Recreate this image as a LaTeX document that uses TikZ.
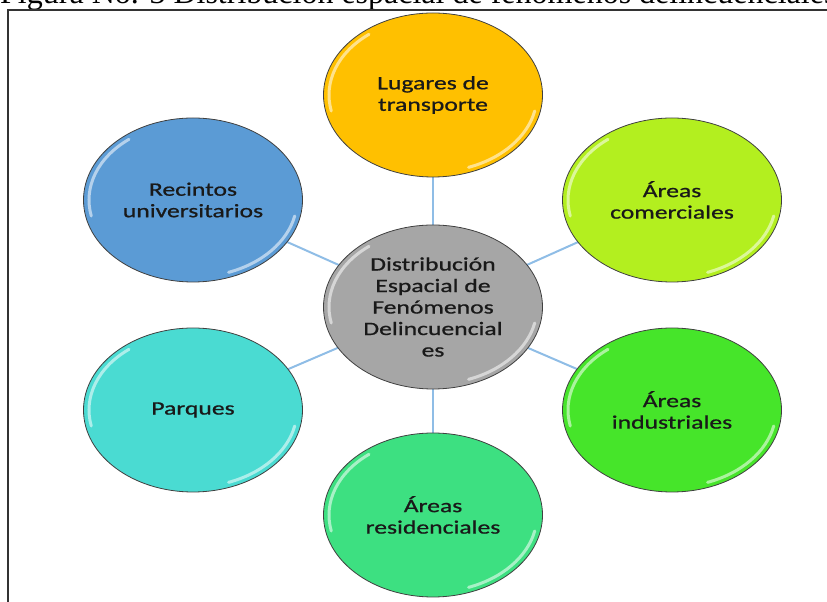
\documentclass[tikz,border=0pt]{standalone}
\usepackage{fontspec}
\setmainfont{Liberation Serif}
\newfontfamily\bubblefont{Carlito}[FakeStretch=1.35,FakeBold=0.8]
\usetikzlibrary{shapes.geometric}

\definecolor{transportgold}{HTML}{FFC000}
\definecolor{campusblue}{HTML}{5B9BD5}
\definecolor{tradelime}{HTML}{B3EF1F}
\definecolor{industrygreen}{HTML}{46E52A}
\definecolor{housingmint}{HTML}{3DE081}
\definecolor{parkturquoise}{HTML}{4ADBD2}
\definecolor{hubgray}{HTML}{A6A6A6}
\definecolor{spokeblue}{HTML}{8FBDE6}

\tikzset{
  gloss/.style={white, line width=3pt, opacity=.55, line cap=round},
  bubble/.style={ellipse, draw=black!75, line width=0.8pt, inner sep=0pt,
    minimum width=219pt, minimum height=164pt, align=center, text=black!90,
    font=\bubblefont\fontsize{19}{21.5}\selectfont,
    path picture={
      \draw[gloss] ([shift={(128:104pt and 77pt)}]path picture bounding box.center)
        arc[start angle=128, end angle=192, x radius=104pt, y radius=77pt];
      \draw[gloss] ([shift={(290:104pt and 77pt)}]path picture bounding box.center)
        arc[start angle=290, end angle=348, x radius=104pt, y radius=77pt];
    }},
  spoke/.style={draw=spokeblue, line width=2pt}
}

\begin{document}
\begin{tikzpicture}[x=1pt,y=1pt]
\useasboundingbox (0,0) rectangle (827,602);

% caption and frame, cut by the page
\node[anchor=base west, inner sep=0pt, font=\fontsize{32}{36}\selectfont] (caption) at (0,598)
  {Figura No. 3 Distribución espacial de fenómenos delincuenciales};
\draw[black!80, line width=1.4pt] (8,-10) -- (8,592) -- (840,592);

% connectors behind the bubbles
\coordinate (hubc) at (433,295);
\foreach \pt in {(433,507),(193,402),(672,402),(193,192),(672,192),(433,87)}
  \draw[spoke] (hubc) -- \pt;

\node[bubble, fill=hubgray] (hub) at (hubc)
  {Distribución\\Espacial de\\Fenómenos\\Delincuencial\\es};
\node[bubble, fill=transportgold] (transport) at (433,507) {Lugares de\\transporte};
\node[bubble, fill=campusblue] (campus) at (193,402) {Recintos\\universitarios};
\node[bubble, fill=tradelime] (trade) at (672,402) {Áreas\\comerciales};
\node[bubble, fill=parkturquoise] (parks) at (193,192) {Parques};
\node[bubble, fill=industrygreen] (industry) at (672,192) {Áreas\\industriales};
\node[bubble, fill=housingmint] (housing) at (433,87) {Áreas\\residenciales};
\end{tikzpicture}
\end{document}
